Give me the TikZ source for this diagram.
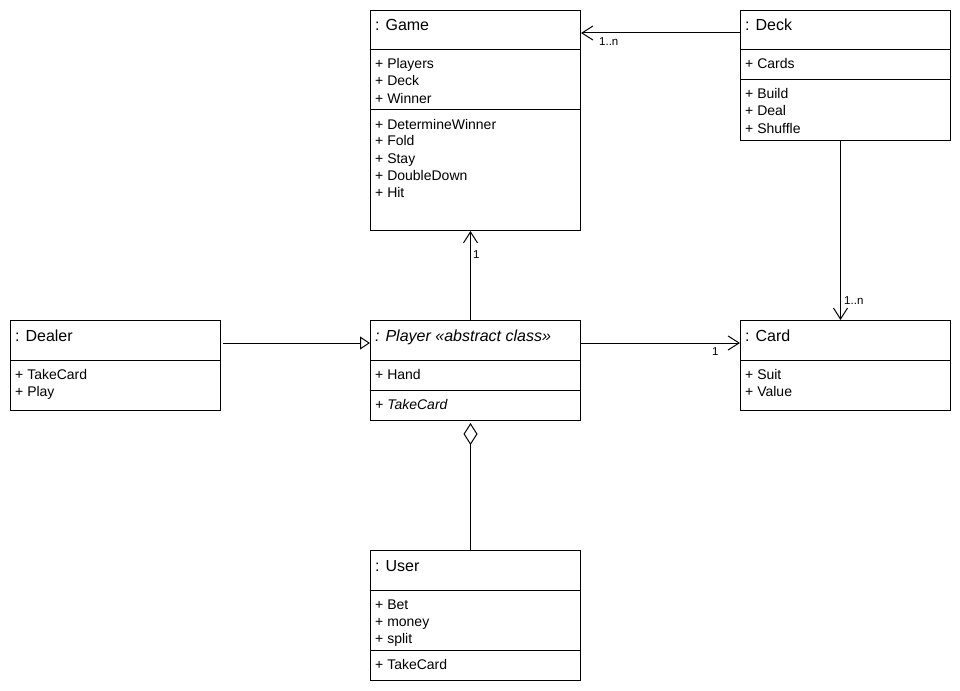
\documentclass[tikz,border=0pt]{standalone}
\usepackage{fontspec}
\setmainfont{Liberation Sans}
\usetikzlibrary{arrows.meta}

\begin{document}
\begin{tikzpicture}[x=1pt, y=-1pt,
  classbox/.style={draw=black, line width=1pt, anchor=north west, inner sep=0pt,
                   minimum width=210pt},
  sepline/.style={draw=black, line width=1pt},
  title/.style={anchor=base west, inner sep=0pt, font=\fontsize{16}{19}\selectfont},
  member/.style={anchor=base west, inner sep=0pt, font=\fontsize{14}{17}\selectfont},
  mult/.style={anchor=base west, inner sep=0pt, font=\fontsize{11.5}{13}\selectfont},
  assoc/.style={draw=black, line width=1pt, -{Straight Barb[length=11pt,width=14pt]}},
  inherit/.style={draw=black, line width=1pt, -{Triangle[open,length=10pt,width=13pt]}},
  aggreg/.style={draw=black, line width=1pt, {Diamond[open,length=22pt,width=14pt]}-},
]
\useasboundingbox (0,0) rectangle (960,690);
\fill[white] (0,0) rectangle (960,690);

% ---------- class boxes ----------
\node[classbox, minimum height=220pt] (game)   at (370,10)  {};
\node[classbox, minimum height=130pt] (deck)   at (740,10)  {};
\node[classbox, minimum height=90pt]  (dealer) at (10,320)  {};
\node[classbox, minimum height=100pt] (player) at (370,320) {};
\node[classbox, minimum height=90pt]  (card)   at (740,320) {};
\node[classbox, minimum height=130pt] (user)   at (370,550) {};

% ---------- compartment separators ----------
\draw[sepline] (game.west |- 0,50)    -- (game.east |- 0,50);
\draw[sepline] (game.west |- 0,110)   -- (game.east |- 0,110);
\draw[sepline] (deck.west |- 0,50)    -- (deck.east |- 0,50);
\draw[sepline] (deck.west |- 0,80)    -- (deck.east |- 0,80);
\draw[sepline] (dealer.west |- 0,360) -- (dealer.east |- 0,360);
\draw[sepline] (player.west |- 0,360) -- (player.east |- 0,360);
\draw[sepline] (player.west |- 0,390) -- (player.east |- 0,390);
\draw[sepline] (card.west |- 0,360)   -- (card.east |- 0,360);
\draw[sepline] (user.west |- 0,590)   -- (user.east |- 0,590);
\draw[sepline] (user.west |- 0,650)   -- (user.east |- 0,650);

% ---------- Game ----------
\node[title]  (gameT) at (375,31)  {: Game};
\node[member] (gameA1) at (375,69)  {+ Players};
\node[member] (gameA2) at (375,86)  {+ Deck};
\node[member] (gameA3) at (375,103) {+ Winner};
\node[member] (gameM1) at (375,129) {+ DetermineWinner};
\node[member] (gameM2) at (375,146) {+ Fold};
\node[member] (gameM3) at (375,163) {+ Stay};
\node[member] (gameM4) at (375,180) {+ DoubleDown};
\node[member] (gameM5) at (375,197) {+ Hit};

% ---------- Deck ----------
\node[title]  (deckT)  at (745,31)  {: Deck};
\node[member] (deckA1) at (745,69)  {+ Cards};
\node[member] (deckM1) at (745,99)  {+ Build};
\node[member] (deckM2) at (745,116) {+ Deal};
\node[member] (deckM3) at (745,133) {+ Shuffle};

% ---------- Dealer ----------
\node[title]  (dealerT)  at (15,341) {: Dealer};
\node[member] (dealerM1) at (15,379) {+ TakeCard};
\node[member] (dealerM2) at (15,396) {+ Play};

% ---------- Player ----------
\node[title]  (playerT)  at (375,341) {\itshape : Player «abstract class»};
\node[member] (playerA1) at (375,379) {+ Hand};
\node[member] (playerM1) at (375,409) {\itshape + TakeCard};

% ---------- Card ----------
\node[title]  (cardT)  at (745,341) {: Card};
\node[member] (cardA1) at (745,379) {+ Suit};
\node[member] (cardA2) at (745,396) {+ Value};

% ---------- User ----------
\node[title]  (userT)  at (375,571) {: User};
\node[member] (userA1) at (375,609) {+ Bet};
\node[member] (userA2) at (375,626) {+ money};
\node[member] (userA3) at (375,643) {+ split};
\node[member] (userM1) at (375,669) {+ TakeCard};

% ---------- relations ----------
\draw[assoc]   ([yshift=-23pt]deck.north west) -- ([yshift=-23pt]game.north east);
\draw[assoc]   ([xshift=-5pt]deck.south) -- ([xshift=-5pt]card.north);
\draw[assoc]   ([xshift=-5pt]player.north) -- ([xshift=-5pt]game.south);
\draw[assoc]   ([yshift=-23pt]player.north east) -- ([yshift=-23pt]card.north west);
\draw[inherit] ([xshift=2pt,yshift=-23pt]dealer.north east) -- ([yshift=-23pt]player.north west);
\draw[aggreg]  ([xshift=-5pt,yshift=-2pt]player.south) -- ([xshift=-5pt]user.north);

% ---------- multiplicities ----------
\node[mult] (m1) at (599,46)  {1..n};
\node[mult] (m2) at (844,304) {1..n};
\node[mult] (m3) at (473,258) {1};
\node[mult] (m4) at (712,355) {1};
\end{tikzpicture}
\end{document}
